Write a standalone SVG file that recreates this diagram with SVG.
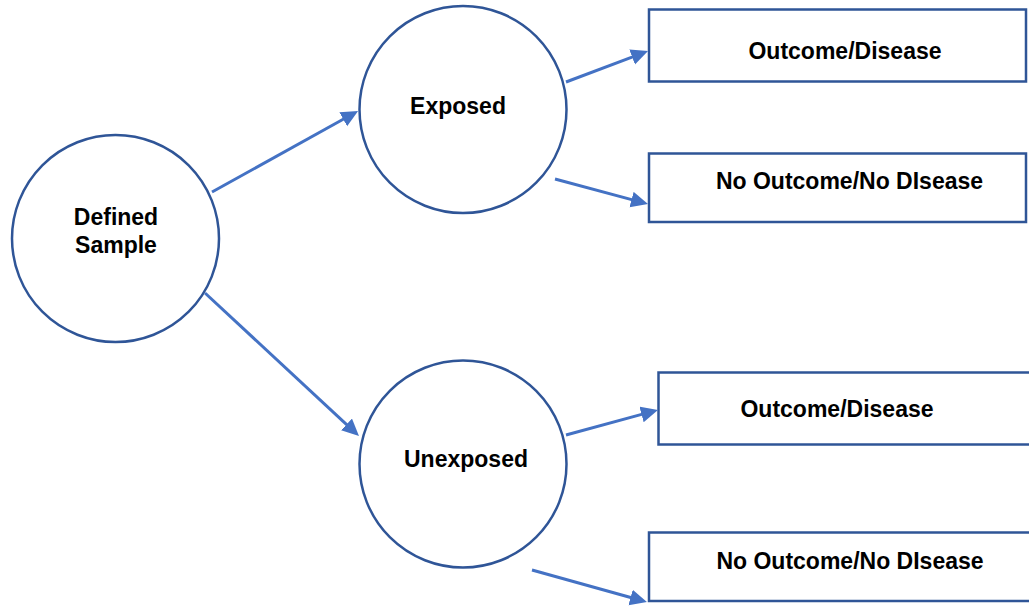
<svg xmlns="http://www.w3.org/2000/svg" width="1029" height="607" viewBox="0 0 1029 607">
<style>
.node{fill:#fff;stroke:#2F5597;stroke-width:2.5}
.lbl{font-family:"Liberation Sans",Arial,sans-serif;font-weight:bold;font-size:23px;fill:#000;text-anchor:middle}
.edge{stroke:#4472C4;stroke-width:3;fill:none;marker-end:url(#ah)}
</style>
<defs>
<marker id="ah" markerUnits="userSpaceOnUse" markerWidth="20" markerHeight="18" refX="2" refY="8" orient="auto">
<path d="M0,0 L17,8 L0,16 z" fill="#4472C4"/>
</marker>
</defs>
<rect width="1029" height="607" fill="#fff"/>
<g id="defined-sample">
<circle class="node" cx="115.5" cy="238.5" r="103.5"/>
<text class="lbl" x="116" y="225">Defined</text>
<text class="lbl" x="116" y="253">Sample</text>
</g>
<g id="exposed">
<circle class="node" cx="463" cy="109.5" r="103.5"/>
<text class="lbl" x="458" y="114">Exposed</text>
</g>
<g id="unexposed">
<circle class="node" cx="463" cy="464" r="103.5"/>
<text class="lbl" x="466" y="467">Unexposed</text>
</g>
<g id="exp-outcome">
<rect class="node" x="649" y="9.5" width="377" height="72"/>
<text class="lbl" x="845" y="59">Outcome/Disease</text>
</g>
<g id="exp-no-outcome">
<rect class="node" x="649" y="153.5" width="377" height="68.5"/>
<text class="lbl" x="849.5" y="189">No Outcome/No DIsease</text>
</g>
<g id="unexp-outcome">
<rect class="node" x="658.5" y="372.5" width="380" height="72"/>
<text class="lbl" x="837" y="417">Outcome/Disease</text>
</g>
<g id="unexp-no-outcome">
<rect class="node" x="649" y="532.5" width="390" height="68.5"/>
<text class="lbl" x="850" y="569">No Outcome/No DIsease</text>
</g>
<g id="connectors">
<line class="edge" x1="212" y1="192" x2="345" y2="118.3"/>
<line class="edge" x1="205" y1="293" x2="348" y2="425.8"/>
<line class="edge" x1="566" y1="82" x2="634" y2="56.3"/>
<line class="edge" x1="555" y1="179" x2="633.5" y2="200.1"/>
<line class="edge" x1="566" y1="435" x2="643.5" y2="413.9"/>
<line class="edge" x1="532" y1="570" x2="632.5" y2="598"/>
</g>
</svg>
